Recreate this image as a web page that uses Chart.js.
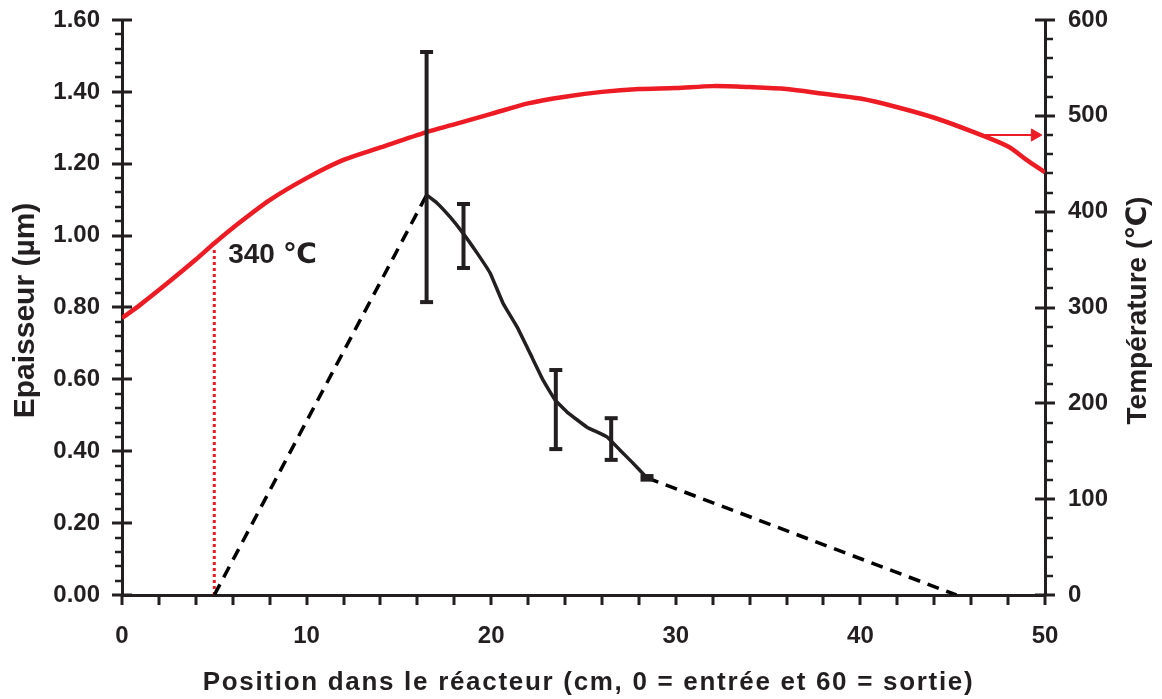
<!DOCTYPE html>
<html><head><meta charset="utf-8">
<script src="https://cdn.jsdelivr.net/npm/chart.js@4.4.0/dist/chart.umd.min.js"></script>
<style>html,body{margin:0;padding:0;background:#fff;}#wrap{width:1162px;height:699px;}</style>
</head><body><div id="wrap"><canvas id="c" width="1162" height="699"></canvas></div>
<script>
// ---- data ----
const tempX = [0, 1, 2.5, 4, 5, 6, 8, 10, 12, 14, 16.5, 18, 20, 22, 24, 26, 28, 30, 32, 34, 36, 38, 40, 42, 44, 46, 48, 49, 50];
const tempY = [289, 303, 326, 350, 367, 383, 412, 435, 454, 467, 483, 491, 502, 513, 520, 525, 528, 529, 531, 530, 528, 523, 518, 509, 498, 484, 468, 454, 441];
const thickX = [16.5, 17.06, 17.77, 18.47, 19.23, 19.94, 20.64, 21.4, 22.1, 22.81, 23.46, 24.11, 25.19, 26.27, 26.98, 27.68, 28.44];
const thickY = [1.113, 1.091, 1.052, 1.007, 0.952, 0.896, 0.812, 0.746, 0.673, 0.598, 0.543, 0.509, 0.467, 0.440, 0.403, 0.367, 0.326];
const errX = [16.5, 18.5, 23.5, 26.5, 28.44];
const errLow = [0.815, 0.91, 0.406, 0.376, 0.321];
const errHigh = [1.511, 1.088, 0.626, 0.492, 0.331];
const dashAX = [5, 16.5], dashAY = [0, 1.113];
const dashBX = [28.44, 45.2], dashBY = [0.326, 0];
const markX = [5, 5], markY = [0, 0.96];
const arrowX = [46.75, 49.45], arrowY = [480, 480];
const noteText = '340 \u2103', noteX = 5.75, noteY = 0.945;
const xTitle = 'Position dans le réacteur (cm, 0 = entrée et 60 = sortie)';
const yTitle = 'Epaisseur (µm)';
const y2Title = 'Température (\u2103)';
const xMax = 50, yMax = 1.6, y2Max = 600;
const xStep = 10, yStep = 0.2, y2Step = 100;
const xMinor = 2, yMinor = 0.04, y2Minor = 20;

// ---- style ----
const RED = '#ed1c24', BLK = '#231f20';
const FONT = '"Liberation Sans", Arial, "DejaVu Sans", sans-serif';

const pts = (xs, ys) => xs.map((x, i) => ({x, y: ys[i]}));
const errData = [];
errX.forEach((x, i) => { errData.push({x, y: errLow[i]}, {x, y: errHigh[i]}, {x, y: null}); });

const decor = {
  id: 'decor',
  afterDraw(chart) {
    const ctx = chart.ctx, sx = chart.scales.x, sy = chart.scales.y, sy2 = chart.scales.y2;
    const a = chart.chartArea;
    ctx.save();
    ctx.strokeStyle = BLK; ctx.lineCap = 'butt';
    ctx.lineWidth = 3;
    for (let v = 0; v <= xMax + 1e-9; v += xMinor) {
      const p = Math.round(sx.getPixelForValue(v));
      ctx.beginPath(); ctx.moveTo(p, a.bottom); ctx.lineTo(p, a.bottom + 10); ctx.stroke();
    }
    for (let v = 0; v <= yMax + 1e-9; v += yMinor) {
      const p = Math.round(sy.getPixelForValue(v));
      const major = Math.abs(v / yStep - Math.round(v / yStep)) < 1e-6;
      ctx.lineWidth = major ? 3 : 2.5;
      ctx.beginPath();
      if (major) { ctx.moveTo(a.left - 10, p); ctx.lineTo(a.left + 10, p); }
      else { ctx.moveTo(a.left - 7, p); ctx.lineTo(a.left, p); }
      ctx.stroke();
    }
    for (let v = 0; v <= y2Max + 1e-9; v += y2Minor) {
      const p = Math.round(sy2.getPixelForValue(v));
      const major = Math.abs(v / y2Step - Math.round(v / y2Step)) < 1e-6;
      ctx.lineWidth = major ? 3 : 2.5;
      ctx.beginPath();
      if (major) { ctx.moveTo(a.right - 10, p); ctx.lineTo(a.right + 10, p); }
      else { ctx.moveTo(a.right, p); ctx.lineTo(a.right + 8, p); }
      ctx.stroke();
    }
    ctx.fillStyle = BLK;
    ctx.font = 'bold 28px ' + FONT;
    ctx.textAlign = 'left'; ctx.textBaseline = 'middle';
    ctx.fillText(noteText, sx.getPixelForValue(noteX), sy.getPixelForValue(noteY));
    if ('letterSpacing' in ctx) ctx.letterSpacing = '1.7px';
    ctx.font = 'bold 26px ' + FONT;
    ctx.textAlign = 'center'; ctx.textBaseline = 'middle';
    ctx.fillText(xTitle, (a.left + a.right) / 2 + 5, 683);
    if ('letterSpacing' in ctx) ctx.letterSpacing = '0px';
    const cy = (a.top + a.bottom) / 2;
    ctx.save();
    ctx.translate(26, cy + 3); ctx.rotate(-Math.PI / 2);
    ctx.font = 'bold 30px ' + FONT;
    ctx.fillText(yTitle, 0, 0);
    ctx.restore();
    ctx.save();
    ctx.translate(1138, cy + 3); ctx.rotate(-Math.PI / 2);
    ctx.font = 'bold 28px ' + FONT;
    ctx.fillText(y2Title, 0, 0);
    ctx.restore();
    ctx.restore();
  }
};

const tickFont = {family: FONT, size: 24, weight: 'bold'};
const fitY = w => s => { s.width = w; s.paddingTop = 0; s.paddingBottom = 0; };
new Chart(document.getElementById('c'), {
  type: 'line',
  data: {
    datasets: [
      {data: pts(tempX, tempY), yAxisID: 'y2', borderColor: RED, borderWidth: 4.5, pointRadius: 0, tension: 0.3, order: 5},
      {data: pts(markX, markY), yAxisID: 'y', borderColor: RED, borderWidth: 3, borderDash: [3, 3], pointRadius: 0, order: 4},
      {data: pts(dashAX, dashAY), yAxisID: 'y', borderColor: '#000', borderWidth: 3.5, borderDash: [12, 8], pointRadius: 0, order: 3},
      {data: pts(dashBX, dashBY), yAxisID: 'y', borderColor: '#000', borderWidth: 3.5, borderDash: [12, 8], pointRadius: 0, order: 3},
      {data: pts(thickX, thickY), yAxisID: 'y', borderColor: BLK, borderWidth: 3.5, pointRadius: 0, tension: 0.1, order: 2},
      {data: errData, yAxisID: 'y', borderColor: BLK, borderWidth: 4, pointStyle: 'line', pointRadius: 6.5, pointBorderWidth: 4, pointBorderColor: BLK, spanGaps: false, tension: 0, order: 1},
      {data: pts(arrowX, arrowY), yAxisID: 'y2', borderColor: RED, borderWidth: 2, backgroundColor: RED, pointBackgroundColor: RED, pointBorderColor: RED, pointStyle: 'triangle', pointRotation: 90, pointRadius: [0, 7], pointBorderWidth: 1, order: 0}
    ]
  },
  options: {
    responsive: false, animation: false, devicePixelRatio: 1,
    layout: {padding: {top: 20, left: 0, right: 0, bottom: 0}},
    plugins: {legend: {display: false}, tooltip: {enabled: false}},
    scales: {
      x: {type: 'linear', position: 'bottom', min: 0, max: xMax,
        ticks: {stepSize: xStep, font: tickFont, color: BLK, padding: 27, maxRotation: 0},
        grid: {display: false, drawTicks: false},
        border: {display: true, color: BLK, width: 3},
        afterFit: s => { s.height = 104; s.paddingLeft = 0; s.paddingRight = 0; }},
      y: {type: 'linear', position: 'left', min: 0, max: yMax,
        ticks: {stepSize: yStep, font: tickFont, color: BLK, padding: 22, callback: v => v.toFixed(2)},
        grid: {display: false, drawTicks: false},
        border: {display: true, color: BLK, width: 3},
        afterFit: fitY(122)},
      y2: {type: 'linear', position: 'right', min: 0, max: y2Max,
        ticks: {stepSize: y2Step, font: tickFont, color: BLK, padding: 23, callback: v => String(Math.round(v))},
        grid: {display: false, drawTicks: false},
        border: {display: true, color: BLK, width: 3},
        afterFit: fitY(117)}
    }
  },
  plugins: [decor]
});
</script></body></html>
